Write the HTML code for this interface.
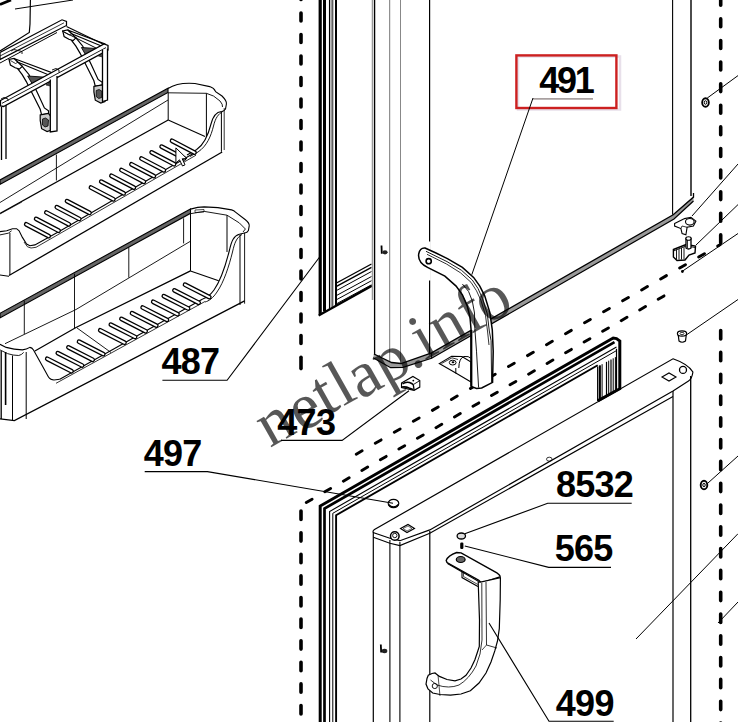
<!DOCTYPE html>
<html><head><meta charset="utf-8"><style>
html,body{margin:0;padding:0;background:#fff;}
svg{display:block;}
</style></head><body>
<svg width="738" height="722" viewBox="0 0 738 722">
<rect width="738" height="722" fill="#fff"/>
<line x1="301" y1="-8.5" x2="301" y2="350" stroke="#000" stroke-width="3.6" stroke-dasharray="7.9 13.6" stroke-linecap="round"/>
<line x1="301" y1="357.3" x2="301" y2="368.6" stroke="#000" stroke-width="3.6" stroke-linecap="round"/>
<line x1="720.7" y1="-2.7" x2="720.7" y2="245" stroke="#000" stroke-width="3.6" stroke-dasharray="7.9 13.7" stroke-linecap="round"/>
<line x1="720" y1="244.8" x2="350" y2="457.8" stroke="#000" stroke-width="2.9" stroke-dasharray="6.7 15.25" stroke-dashoffset="4.07" stroke-linecap="round"/>
<line x1="664.7" y1="295.5" x2="301" y2="505.6" stroke="#000" stroke-width="2.9" stroke-dasharray="6.7 14.69" stroke-dashoffset="20.6" stroke-linecap="round"/>
<line x1="301" y1="511.1" x2="301" y2="730" stroke="#000" stroke-width="3.6" stroke-dasharray="8.4 13.2" stroke-linecap="round"/>
<line x1="720.7" y1="330.6" x2="720.7" y2="730" stroke="#000" stroke-width="3.6" stroke-dasharray="8.4 13.4" stroke-linecap="round"/>
<line x1="320.2" y1="0" x2="320.2" y2="313.88800000000003" stroke="#000" stroke-width="3.2" />
<line x1="324.5" y1="0" x2="324.5" y2="311.48" stroke="#000" stroke-width="3" />
<line x1="329.5" y1="0" x2="329.5" y2="308.68" stroke="#000" stroke-width="1.1" />
<line x1="331.4" y1="0" x2="331.4" y2="307.616" stroke="#999" stroke-width="2" />
<line x1="332.8" y1="0" x2="332.8" y2="306.832" stroke="#000" stroke-width="0.8" />
<line x1="336" y1="0" x2="336" y2="305.04" stroke="#000" stroke-width="2" />
<path d="M318.6,315.5 L372.0,285.8" stroke="#000" stroke-width="2.3" fill="none" />
<line x1="336.5" y1="283" x2="371.5" y2="264" stroke="#000" stroke-width="1.4" />
<line x1="336.5" y1="286.4" x2="371.5" y2="267.4" stroke="#000" stroke-width="1.4" />
<line x1="336.5" y1="290.5" x2="371.5" y2="271.5" stroke="#000" stroke-width="1" />
<line x1="336.5" y1="295.5" x2="371.5" y2="276.5" stroke="#000" stroke-width="1" />
<line x1="336.5" y1="299.7" x2="371.5" y2="280.7" stroke="#000" stroke-width="1" />
<line x1="336.5" y1="303.8" x2="371.5" y2="284.8" stroke="#000" stroke-width="1" />
<line x1="372.5" y1="0" x2="372.5" y2="300" stroke="#999" stroke-width="1.5" />
<line x1="374.6" y1="0" x2="374.6" y2="355" stroke="#000" stroke-width="1.3" />
<line x1="389.7" y1="0" x2="389.7" y2="362" stroke="#777" stroke-width="1" />
<line x1="400.5" y1="0" x2="400.5" y2="363" stroke="#888" stroke-width="1" />
<line x1="429.6" y1="0" x2="429.6" y2="353.5" stroke="#000" stroke-width="1.2" />
<path d="M374,354 L391.6,362.5 L401,363.5 L431.6,352.9 L673.2,214.7 L693.5,197.1 L693.5,201 L674,219 L431.6,358.3 L403,367.3 L390.6,367.7 L373.1,357.8 Z" fill="#999" stroke="none"/>
<path d="M374.0,354.0 L391.6,362.5 L401.0,363.5 L431.6,352.9 L673.2,214.7 L693.5,197.1 L693.5,193.0" stroke="#000" stroke-width="1.3" fill="none" />
<path d="M373.1,357.8 L390.6,367.7 L403.0,367.3 L431.6,358.3 L674.0,219.0 L693.5,201.0" stroke="#000" stroke-width="1.2" fill="none" />
<line x1="431.6" y1="352.9" x2="431.6" y2="358.3" stroke="#000" stroke-width="1" />
<line x1="672.6" y1="0" x2="672.6" y2="214.7" stroke="#000" stroke-width="1.1" />
<line x1="691" y1="0" x2="691" y2="196" stroke="#000" stroke-width="1.4" />
<path d="M320.2,722.0 L320.2,506.0 L613.2,338.0 L616.5,338.6 L619.8,341.0 L619.8,388.7 L597.7,400.9" stroke="#000" stroke-width="3.0" fill="none" />
<path d="M324.5,722.0 L324.5,508.5 L614.5,342.2" stroke="#000" stroke-width="2.7" fill="none" />
<path d="M329.6,722.0 L329.6,511.5 L616.5,346.9" stroke="#000" stroke-width="1.1" fill="none" />
<path d="M332.8,722.0 L332.8,513.3 L616.5,350.6" stroke="#000" stroke-width="1.0" fill="none" />
<path d="M336.1,722.0 L336.1,515.2 L597.7,365.2" stroke="#000" stroke-width="1.9" fill="none" />
<line x1="616.5" y1="348.8" x2="616.5" y2="389" stroke="#000" stroke-width="1.2" />
<line x1="597.7" y1="366.5" x2="597.7" y2="400.9" stroke="#000" stroke-width="1.3" />
<line x1="599.9" y1="365.33400000000006" x2="599.9" y2="399.624" stroke="#000" stroke-width="2" />
<line x1="602.1" y1="364.168" x2="602.1" y2="398.348" stroke="#000" stroke-width="1" />
<line x1="606.5" y1="361.836" x2="606.5" y2="395.796" stroke="#000" stroke-width="1.2" />
<line x1="608.7" y1="360.67" x2="608.7" y2="394.52" stroke="#000" stroke-width="1" />
<line x1="611" y1="359.451" x2="611" y2="393.186" stroke="#000" stroke-width="1.2" />
<line x1="613.2" y1="358.285" x2="613.2" y2="391.90999999999997" stroke="#000" stroke-width="1" />
<line x1="615.4" y1="357.119" x2="615.4" y2="390.634" stroke="#000" stroke-width="1" />
<path d="M673,391 L429.8,529.9 L399.9,540.7 L389.9,538.2 L374.5,533 Q371.5,531.5 374.5,529.5 L673,358.8 Q688,364 692.9,372 Q692,379 688.5,381 L673,391" stroke="#000" stroke-width="1.2" fill="none" />
<path d="M373.3,537.3 L389.9,543.2 L399.9,545.6 L429.8,533.2 L673.0,396.5" stroke="#000" stroke-width="1.1" fill="none" />
<line x1="373.3" y1="532" x2="373.3" y2="722" stroke="#000" stroke-width="1.2" />
<line x1="389.9" y1="540" x2="389.9" y2="722" stroke="#000" stroke-width="1.1" />
<line x1="399.9" y1="542" x2="399.9" y2="722" stroke="#000" stroke-width="1.1" />
<line x1="429.8" y1="531" x2="429.8" y2="722" stroke="#000" stroke-width="1.2" />
<line x1="673" y1="391" x2="673" y2="722" stroke="#000" stroke-width="1.2" />
<line x1="690.7" y1="376" x2="690.7" y2="722" stroke="#000" stroke-width="1.3" />
<circle cx="394.8" cy="536" r="4.3" fill="#fff" stroke="#000" stroke-width="1.5"/>
<circle cx="394.8" cy="535.5" r="2.2" fill="none" stroke="#000" stroke-width="0.9"/>
<circle cx="683" cy="369.9" r="3.5" fill="none" stroke="#000" stroke-width="1.3"/>
<path d="M400.5,528.5 L408,524.5 L414.5,528.5 L407,532.5 Z" stroke="#000" stroke-width="1.1" fill="none" />
<path d="M403,528.5 L408,526 L412,528.5 L407,531 Z" stroke="#000" stroke-width="0.6" fill="none" />
<path d="M662,377 L669,373 L676,377 L669,381 Z" stroke="#000" stroke-width="1.1" fill="none" />
<ellipse cx="549.3" cy="459.2" rx="2.8" ry="2" fill="none" stroke="#000" stroke-width="0.8"/>
<ellipse cx="393.5" cy="503.5" rx="5.3" ry="4.2" fill="#fff" stroke="#000" stroke-width="1.2"/>
<path d="M388.5,504.5 Q393.5,509.5 398.5,504.5" stroke="#000" stroke-width="1.6" fill="none" />
<path d="M30.4,0.0 L30.0,24.0 L29.3,32.5 L0.0,51.0" stroke="#000" stroke-width="1.2" fill="none" />
<line x1="15" y1="9" x2="73" y2="0" stroke="#000" stroke-width="1" />
<path d="M0.0,4.5 L11.0,0.0" stroke="#000" stroke-width="2.8" fill="none" />
<path d="M0,52.5 L62,19.8 L66.5,21.5 L66.5,25.5 L0,59.5 Z" fill="#fff" stroke="#000" stroke-width="1.2"/>
<line x1="0" y1="56" x2="64" y2="22.8" stroke="#000" stroke-width="0.8" />
<line x1="0" y1="63" x2="57" y2="32.5" stroke="#000" stroke-width="1" />
<path d="M67.7,30.0 L105.0,44.0 L105.0,47.5 L71.7,33.7 Z" fill="#fff" stroke="#000" stroke-width="1.1"/>
<path d="M71.7,40.6 L75.9,46.2 L80.0,53.1 L87.0,66.9 L93.9,80.8 L95.3,86.4 L102.2,85.0 L102.2,82.2 L98.1,79.4 L91.1,64.2 L85.6,53.1 L82.8,46.2 L75.9,37.8 Z" fill="#fff" stroke="#000" stroke-width="1.2"/>
<path d="M62.7,30.9 L64.1,36.5 L68.9,39.2 L73.1,40.6 L75.9,37.8 L71.7,33.7 L67.7,30.0 Z" fill="#fff" stroke="#000" stroke-width="1.2"/>
<path d="M64.1,32.0 L69.2,35.0 L71.7,33.7" stroke="#000" stroke-width="0.8" fill="none" />
<path d="M81.4,47.5 L98.7,48.7 L86.2,55.9 Z" fill="#555" stroke="#000" stroke-width="0.9"/>
<path d="M93.9,86.4 L102.2,85.0 L106.4,90.5 L105.0,101.6 L100.8,103.0 L95.3,100.2 L93.9,91.9 Z" fill="#ccc" stroke="#000" stroke-width="1.2"/>
<path d="M96.2,90.5 l3,-1 l3,2 l-0.5,6 l-3,1 l-2.5,-2 Z" fill="#555" stroke="#000" stroke-width="0.8"/>
<path d="M66.5,26.5 L105.0,45.0" stroke="#000" stroke-width="1.1" fill="none" />
<path d="M62.0,31.0 L100.0,50.0" stroke="#000" stroke-width="1" fill="none" />
<path d="M14.0,58.5 L51.3,72.5 L51.3,76.0 L18.0,62.2 Z" fill="#fff" stroke="#000" stroke-width="1.1"/>
<path d="M18.0,69.1 L22.2,74.7 L26.3,81.6 L33.3,95.4 L40.2,109.3 L41.6,114.9 L48.5,113.5 L48.5,110.7 L44.4,107.9 L37.4,92.7 L31.9,81.6 L29.1,74.7 L22.2,66.3 Z" fill="#fff" stroke="#000" stroke-width="1.2"/>
<path d="M9.0,59.4 L10.4,65.0 L15.2,67.7 L19.4,69.1 L22.2,66.3 L18.0,62.2 L14.0,58.5 Z" fill="#fff" stroke="#000" stroke-width="1.2"/>
<path d="M10.4,60.5 L15.5,63.5 L18.0,62.2" stroke="#000" stroke-width="0.8" fill="none" />
<path d="M27.7,76.0 L45.0,77.2 L32.5,84.4 Z" fill="#555" stroke="#000" stroke-width="0.9"/>
<path d="M40.2,114.9 L48.5,113.5 L52.7,119.0 L51.3,130.1 L47.1,131.5 L41.6,128.7 L40.2,120.4 Z" fill="#ccc" stroke="#000" stroke-width="1.2"/>
<path d="M42.5,119.0 l3,-1 l3,2 l-0.5,6 l-3,1 l-2.5,-2 Z" fill="#555" stroke="#000" stroke-width="0.8"/>
<path d="M0.5,100.5 L104,44 L108,45.5 L108,50 L3.5,106.5 L0.5,106 Z" fill="#fff" stroke="#000" stroke-width="1.3"/>
<line x1="2" y1="103.3" x2="106" y2="47.6" stroke="#000" stroke-width="0.9" />
<path d="M102.5,50 L102.5,101.5 L107.5,100 L107.5,48.5" fill="#fff" stroke="#000" stroke-width="1.3"/>
<path d="M50.3,79.5 L50.3,132 L57,131 L57,76" fill="#fff" stroke="#000" stroke-width="1.3"/>
<path d="M50.3,82 L46,85 L50.3,86 Z" fill="#444" stroke="#000" stroke-width="0.6"/>
<path d="M102.5,53 L98.5,56 L102.5,57 Z" fill="#444" stroke="#000" stroke-width="0.6"/>
<path d="M1.5,107.0 L1.5,160.0" stroke="#000" stroke-width="1.3" fill="none" />
<path d="M6.0,105.0 L6.0,159.0" stroke="#000" stroke-width="1.3" fill="none" />
<path d="M11.0,51.0 L14.0,49.5 L22.0,51.5 L22.0,54.0" stroke="#000" stroke-width="0.9" fill="none" />
<path d="M52.0,70.0 L56.0,68.5 L59.0,70.0 L59.0,72.5" stroke="#000" stroke-width="0.9" fill="none" />
<path d="M1.0,99.0 L4.0,97.5 L8.0,99.0 L8.0,101.0" stroke="#000" stroke-width="0.9" fill="none" />
<path d="M0,180 L168,88.3 L168,92.5 L0,184.4 Z" fill="#666" stroke="#000" stroke-width="1.1"/>
<path d="M168,88.5 C175,84 183,82.5 195,83.5 L209.7,86.6 Q214,88 215.6,91.6 L222,96 Q227,101 226.4,104 L225.5,109 Q224,111.5 221.4,111.5" stroke="#000" stroke-width="1.1" fill="none" />
<path d="M168,92.8 L206.4,93.3 Q214,95 220,101 Q223,104.5 222.5,107" stroke="#000" stroke-width="0.9" fill="none" />
<line x1="168.2" y1="92.8" x2="168.2" y2="120" stroke="#000" stroke-width="1" />
<line x1="206.4" y1="93.3" x2="206.4" y2="136.5" stroke="#000" stroke-width="1" />
<path d="M0.0,202.5 L168.0,100.0" stroke="#000" stroke-width="0.9" fill="none" />
<path d="M0.0,213.5 L168.2,120.0" stroke="#000" stroke-width="1.3" fill="none" />
<path d="M0.0,214.0 L22.0,202.0" stroke="#000" stroke-width="0.6" fill="none" />
<line x1="168.2" y1="120" x2="205" y2="136.5" stroke="#000" stroke-width="1.1" />
<path d="M221.4,111.5 C216,112 213,116 211,124 C208.5,134 205,144 196.4,149.8 L187,155" stroke="#000" stroke-width="1.1" fill="none" />
<path d="M223.5,111 C218,114 215.5,118 213.5,126 C211,136 207,146 198,152 L190,156.5" stroke="#000" stroke-width="0.9" fill="none" />
<line x1="221.4" y1="111.5" x2="221.4" y2="151.8" stroke="#000" stroke-width="1" />
<line x1="224.2" y1="108" x2="224.2" y2="150" stroke="#000" stroke-width="0.8" />
<line x1="56.4" y1="154.6" x2="56.4" y2="180.5" stroke="#000" stroke-width="0.9" />
<path d="M0.0,231.6 L6.7,230.8 L12.5,228.7 L16.6,228.7 L19.1,230.8 L22.4,237.4 L26.6,244.1 L29.9,245.7 L34.9,244.9 L60.0,231.0 L194.6,152.8" stroke="#000" stroke-width="1.1" fill="none" />
<path d="M0.0,234.9 L8.3,233.2 L11.6,230.8" stroke="#000" stroke-width="0.9" fill="none" />
<path d="M24.0,242.0 L27.5,246.8 L31.0,248.0 L36.0,247.3 L60.0,233.5 L196.0,155.2" stroke="#000" stroke-width="0.8" fill="none" />
<path d="M9.0,275.5 L222.2,152.0" stroke="#000" stroke-width="1.3" fill="none" />
<line x1="9.9" y1="233" x2="9.9" y2="275" stroke="#000" stroke-width="1" />
<line x1="0" y1="275" x2="9" y2="276.3" stroke="#000" stroke-width="1" />
<path d="M26.2,224.3 l22.5,11.8" stroke="#000" stroke-width="4.7" stroke-linecap="round" fill="none"/>
<path d="M26.2,224.3 l22.5,11.8" stroke="#fff" stroke-width="2.1" stroke-linecap="round" fill="none"/>
<path d="M36.1,218.9 l22.5,11.8" stroke="#000" stroke-width="4.7" stroke-linecap="round" fill="none"/>
<path d="M36.1,218.9 l22.5,11.8" stroke="#fff" stroke-width="2.1" stroke-linecap="round" fill="none"/>
<path d="M46.3,212.5 l22.5,11.8" stroke="#000" stroke-width="4.7" stroke-linecap="round" fill="none"/>
<path d="M46.3,212.5 l22.5,11.8" stroke="#fff" stroke-width="2.1" stroke-linecap="round" fill="none"/>
<path d="M56.8,207.2 l22.5,11.8" stroke="#000" stroke-width="4.7" stroke-linecap="round" fill="none"/>
<path d="M56.8,207.2 l22.5,11.8" stroke="#fff" stroke-width="2.1" stroke-linecap="round" fill="none"/>
<path d="M67.0,201.1 l22.5,11.8" stroke="#000" stroke-width="4.7" stroke-linecap="round" fill="none"/>
<path d="M67.0,201.1 l22.5,11.8" stroke="#fff" stroke-width="2.1" stroke-linecap="round" fill="none"/>
<path d="M90.9,187.5 l22.5,11.8" stroke="#000" stroke-width="4.7" stroke-linecap="round" fill="none"/>
<path d="M90.9,187.5 l22.5,11.8" stroke="#fff" stroke-width="2.1" stroke-linecap="round" fill="none"/>
<path d="M101.2,181.6 l22.5,11.8" stroke="#000" stroke-width="4.7" stroke-linecap="round" fill="none"/>
<path d="M101.2,181.6 l22.5,11.8" stroke="#fff" stroke-width="2.1" stroke-linecap="round" fill="none"/>
<path d="M111.4,175.8 l22.5,11.8" stroke="#000" stroke-width="4.7" stroke-linecap="round" fill="none"/>
<path d="M111.4,175.8 l22.5,11.8" stroke="#fff" stroke-width="2.1" stroke-linecap="round" fill="none"/>
<path d="M121.4,170.0 l22.5,11.8" stroke="#000" stroke-width="4.7" stroke-linecap="round" fill="none"/>
<path d="M121.4,170.0 l22.5,11.8" stroke="#fff" stroke-width="2.1" stroke-linecap="round" fill="none"/>
<path d="M131.4,164.3 l22.5,11.8" stroke="#000" stroke-width="4.7" stroke-linecap="round" fill="none"/>
<path d="M131.4,164.3 l22.5,11.8" stroke="#fff" stroke-width="2.1" stroke-linecap="round" fill="none"/>
<path d="M141.4,158.5 l22.5,11.8" stroke="#000" stroke-width="4.7" stroke-linecap="round" fill="none"/>
<path d="M141.4,158.5 l22.5,11.8" stroke="#fff" stroke-width="2.1" stroke-linecap="round" fill="none"/>
<path d="M151.6,152.4 l22.5,11.8" stroke="#000" stroke-width="4.7" stroke-linecap="round" fill="none"/>
<path d="M151.6,152.4 l22.5,11.8" stroke="#fff" stroke-width="2.1" stroke-linecap="round" fill="none"/>
<path d="M161.6,146.6 l22.5,11.8" stroke="#000" stroke-width="4.7" stroke-linecap="round" fill="none"/>
<path d="M161.6,146.6 l22.5,11.8" stroke="#fff" stroke-width="2.1" stroke-linecap="round" fill="none"/>
<path d="M172.0,140.8 l22.5,11.8" stroke="#000" stroke-width="4.7" stroke-linecap="round" fill="none"/>
<path d="M172.0,140.8 l22.5,11.8" stroke="#fff" stroke-width="2.1" stroke-linecap="round" fill="none"/>
<path d="M175.9,147.9 L175.9,163 L179.5,159.8 L182.5,166 L185,164.8 L182.2,158.8 L186.8,158.5 Z" fill="#fff" stroke="#000" stroke-width="1"/>
<path d="M0,313.3 L190.5,209 L190.5,213.3 L0,317.8 Z" fill="#666" stroke="#000" stroke-width="1.1"/>
<path d="M190.5,209.1 C196,207.5 200,206.9 204.2,206.9 L217.9,207.6 L231.6,209.9 Q234,210.5 235.5,212.2 L245.4,219.8 Q249.5,223 249.2,225.9 L248.4,230.5 Q247,232.8 245.4,232.8 L239.3,234.3" stroke="#000" stroke-width="1.1" fill="none" />
<path d="M190.5,213.7 L204.2,211.4 L227,215.2 L239.3,222.9 L245.4,229 L243,232" stroke="#000" stroke-width="0.9" fill="none" />
<path d="M195,210 L204,209.5 L204,212 L195,212.5 Z" fill="none" stroke="#000" stroke-width="0.7"/>
<line x1="190.5" y1="213.7" x2="190.5" y2="270.9" stroke="#000" stroke-width="1" />
<line x1="183.6" y1="218.3" x2="183.6" y2="243.4" stroke="#000" stroke-width="0.9" />
<line x1="128.8" y1="247.5" x2="128.8" y2="277.6" stroke="#000" stroke-width="0.9" />
<line x1="74.5" y1="273.7" x2="74.5" y2="328" stroke="#000" stroke-width="0.9" />
<line x1="24.3" y1="300.7" x2="24.3" y2="334" stroke="#000" stroke-width="0.9" />
<line x1="227" y1="215.2" x2="227" y2="252" stroke="#000" stroke-width="1" />
<path d="M5.0,343.7 L76.0,309.5 L190.5,241.2" stroke="#000" stroke-width="0.9" fill="none" />
<path d="M34.9,351.0 L76.0,327.5 L190.5,270.9" stroke="#000" stroke-width="1.3" fill="none" />
<line x1="190.5" y1="270.9" x2="218.7" y2="280.8" stroke="#000" stroke-width="1.1" />
<path d="M239.3,234.3 C233.5,236 231.5,241 229.5,250 C226,264 221,280 214,290 C210,295.5 206,298 202.7,299.1" stroke="#000" stroke-width="1.1" fill="none" />
<path d="M242,234.5 C236.5,237.5 234.5,243 232.5,252 C229,266 224,282 217,292 C213,298 209,301 205,302" stroke="#000" stroke-width="0.9" fill="none" />
<line x1="240" y1="234.3" x2="240" y2="305" stroke="#000" stroke-width="1" />
<line x1="244.6" y1="232.8" x2="244.6" y2="303.7" stroke="#000" stroke-width="0.9" />
<path d="M0,344.3 L6.2,347.4 Q14,349.5 22.4,349.9 Q26.5,349.5 29.9,347.4 Q32,347.5 33.5,350 L42.4,366.1 L48.6,377.3 Q50.5,380 54,380 L59.8,379.2" stroke="#000" stroke-width="1.1" fill="none" />
<path d="M0,349.9 L7.5,353.6 Q13,355.5 18.7,355.5 Q21.5,355 23.7,352.4" stroke="#000" stroke-width="0.9" fill="none" />
<path d="M59.8,379.2 L202.7,299.1" stroke="#000" stroke-width="1.1" fill="none" />
<path d="M56.0,383.3 L205.0,301.5" stroke="#000" stroke-width="0.8" fill="none" />
<line x1="1.2" y1="351" x2="1.2" y2="419" stroke="#000" stroke-width="1.3" />
<line x1="5.6" y1="352" x2="5.6" y2="405" stroke="#000" stroke-width="1.6" />
<line x1="12.5" y1="355.5" x2="12.5" y2="420" stroke="#000" stroke-width="1" />
<line x1="26.2" y1="352" x2="26.2" y2="419" stroke="#000" stroke-width="1" />
<path d="M0.0,418.8 L14.4,420.6 L244.6,300.8" stroke="#000" stroke-width="1.3" fill="none" />
<path d="M47.2,358.8 l24.3,12.4" stroke="#000" stroke-width="4.7" stroke-linecap="round" fill="none"/>
<path d="M47.2,358.8 l24.3,12.4" stroke="#fff" stroke-width="2.1" stroke-linecap="round" fill="none"/>
<path d="M57.8,353.1 l24.3,12.4" stroke="#000" stroke-width="4.7" stroke-linecap="round" fill="none"/>
<path d="M57.8,353.1 l24.3,12.4" stroke="#fff" stroke-width="2.1" stroke-linecap="round" fill="none"/>
<path d="M68.4,347.4 l24.3,12.4" stroke="#000" stroke-width="4.7" stroke-linecap="round" fill="none"/>
<path d="M68.4,347.4 l24.3,12.4" stroke="#fff" stroke-width="2.1" stroke-linecap="round" fill="none"/>
<path d="M79.0,341.7 l24.3,12.4" stroke="#000" stroke-width="4.7" stroke-linecap="round" fill="none"/>
<path d="M79.0,341.7 l24.3,12.4" stroke="#fff" stroke-width="2.1" stroke-linecap="round" fill="none"/>
<path d="M100.2,330.3 l24.3,12.4" stroke="#000" stroke-width="4.7" stroke-linecap="round" fill="none"/>
<path d="M100.2,330.3 l24.3,12.4" stroke="#fff" stroke-width="2.1" stroke-linecap="round" fill="none"/>
<path d="M110.8,324.6 l24.3,12.4" stroke="#000" stroke-width="4.7" stroke-linecap="round" fill="none"/>
<path d="M110.8,324.6 l24.3,12.4" stroke="#fff" stroke-width="2.1" stroke-linecap="round" fill="none"/>
<path d="M121.4,318.9 l24.3,12.4" stroke="#000" stroke-width="4.7" stroke-linecap="round" fill="none"/>
<path d="M121.4,318.9 l24.3,12.4" stroke="#fff" stroke-width="2.1" stroke-linecap="round" fill="none"/>
<path d="M132.0,313.2 l24.3,12.4" stroke="#000" stroke-width="4.7" stroke-linecap="round" fill="none"/>
<path d="M132.0,313.2 l24.3,12.4" stroke="#fff" stroke-width="2.1" stroke-linecap="round" fill="none"/>
<path d="M142.6,307.5 l24.3,12.4" stroke="#000" stroke-width="4.7" stroke-linecap="round" fill="none"/>
<path d="M142.6,307.5 l24.3,12.4" stroke="#fff" stroke-width="2.1" stroke-linecap="round" fill="none"/>
<path d="M153.2,301.8 l24.3,12.4" stroke="#000" stroke-width="4.7" stroke-linecap="round" fill="none"/>
<path d="M153.2,301.8 l24.3,12.4" stroke="#fff" stroke-width="2.1" stroke-linecap="round" fill="none"/>
<path d="M163.8,296.1 l24.3,12.4" stroke="#000" stroke-width="4.7" stroke-linecap="round" fill="none"/>
<path d="M163.8,296.1 l24.3,12.4" stroke="#fff" stroke-width="2.1" stroke-linecap="round" fill="none"/>
<path d="M174.4,290.4 l24.3,12.4" stroke="#000" stroke-width="4.7" stroke-linecap="round" fill="none"/>
<path d="M174.4,290.4 l24.3,12.4" stroke="#fff" stroke-width="2.1" stroke-linecap="round" fill="none"/>
<path d="M185.0,284.7 l24.3,12.4" stroke="#000" stroke-width="4.7" stroke-linecap="round" fill="none"/>
<path d="M185.0,284.7 l24.3,12.4" stroke="#fff" stroke-width="2.1" stroke-linecap="round" fill="none"/>
<path d="M76.8,327.8 L111.0,352.5" stroke="#000" stroke-width="0.9" fill="none" />
<line x1="429.6" y1="241.5" x2="429.6" y2="280.5" stroke="#fff" stroke-width="2.2" />
<path d="M439.2,363.6 L451.6,356.3 L462,356.5 L471,362 L471,382 L455.8,373 Z" fill="#fff" stroke="#000" stroke-width="1.1"/>
<line x1="455.8" y1="368" x2="455.8" y2="373.5" stroke="#000" stroke-width="1" />
<path d="M441.5,363.5 L452.0,357.8 L458.0,359.5" stroke="#000" stroke-width="0.8" fill="none" />
<path d="M458.8,368 Q459,358 464,356.5 Q469,356 470.5,358" stroke="#000" stroke-width="1" fill="none" />
<ellipse cx="452.7" cy="362.6" rx="3.4" ry="2.4" fill="none" stroke="#000" stroke-width="1"/>
<ellipse cx="453" cy="362.3" rx="1.4" ry="1" fill="#000"/>
<path d="M425.0,248.0 L436.0,253.0 L447.4,258.7 L462.4,267.4 L473.6,277.4 L479.8,286.1 L484.8,296.1 L489.8,312.3 L492.3,330.0 L493.2,351.2 L492.6,380.2 L492.6,382.3 L481.7,388.0 L476.5,388.5 L471.3,386.5 L471.3,359.0 L471.1,330.0 L470.0,317.3 L467.3,306.1 L462.4,294.8 L456.1,286.1 L444.9,276.1 L427.5,267.4 C421,264 418,259 418.7,254 C419.5,249.5 422,247.8 425,248 Z" fill="#fff" stroke="#000" stroke-width="1.5"/>
<path d="M426.0,251.3 L447.0,261.6 L461.5,270.3 L472.3,280.0 L478.0,288.5 L482.5,298.5 L487.3,314.0 L489.3,331.0 L491.1,340.8 L491.6,382.3" stroke="#000" stroke-width="0.9" fill="none" />
<path d="M462.4,284.0 L468.6,291.5 L472.3,301.0 L474.5,313.0 L474.8,328.3 L476.5,351.2 L478.6,387.5" stroke="#000" stroke-width="0.9" fill="none" />
<path d="M427.0,254.3 L446.5,264.0 L460.5,272.8 L471.0,282.3 L476.5,290.8 L481.0,300.5 L485.5,315.5 L487.5,331.0 L489.0,345.0" stroke="#000" stroke-width="0.8" fill="none" />
<line x1="471.3" y1="330" x2="471.3" y2="386.5" stroke="#000" stroke-width="2.1" />
<circle cx="428.7" cy="261.2" r="2.6" fill="#fff" stroke="#000" stroke-width="1.6"/>
<path d="M446.2,560.5 Q448,555.5 456.7,552.5 L461.1,552.9 L497.3,573.2 Q501,576 499.9,577 L481.4,582.9 L478.8,580.2 L447,562.5 Z" fill="#fff" stroke="#000" stroke-width="1.4"/>
<path d="M447.5,563.5 L478.8,581.5" stroke="#000" stroke-width="1.1" fill="none" />
<ellipse cx="460.7" cy="559.5" rx="4.4" ry="3" fill="#666" stroke="#000" stroke-width="1.2"/>
<path d="M462.0,571.4 L462.0,577.6 L477.9,586.4" stroke="#000" stroke-width="1.1" fill="none" />
<path d="M463.5,572.2 L463.5,576.5 L477.9,584.5" stroke="#000" stroke-width="0.7" fill="none" />
<path d="M480.4,582.1 L500.4,577.7 L500.2,600.0 L499.3,628.7 L497.5,641.0 L494.8,650.9 L491.0,662.0 L486.0,673.0 L479.0,683.0 L470.4,690.8 L461.0,694.0 L450.5,695.2 L440.0,694.5 L432.7,693.0 L428.0,689.0 L426.0,684.1 L427.0,678.5 L428.3,675.3 L432.0,673.5 L435.0,673.0 L439.4,676.4 L447.0,679.5 L455.0,680.8 L461.0,679.0 L466.0,675.3 L471.0,668.0 L474.9,659.7 L477.5,652.0 L479.3,646.4 L479.5,620.0 L478.2,582.1Z" fill="#fff" stroke="#000" stroke-width="1.2"/>
<path d="M481.8,583 L482,640 Q481,655 476,666 Q469,679 459,685 Q449,689 437,685 L430.5,680" stroke="#000" stroke-width="0.8" fill="none" />
<path d="M486,582 L486.5,645 L497,648" stroke="#000" stroke-width="0.8" fill="none" />
<path d="M486.5,645.0 L482.0,650.0" stroke="#000" stroke-width="0.7" fill="none" />
<ellipse cx="434.8" cy="686" rx="2.6" ry="2.6" fill="none" stroke="#000" stroke-width="0.9"/>
<line x1="438" y1="675" x2="440" y2="696" stroke="#000" stroke-width="0.7" />
<ellipse cx="461.3" cy="536" rx="4.2" ry="3" fill="#ddd" stroke="#000" stroke-width="1.3"/>
<rect x="460.2" y="542.5" width="3.2" height="6.5" rx="1.2" fill="#000"/>
<path d="M401.5,383 L412.9,376.5 L419.8,380.6 L419.8,387.1 L414.1,390.3 L401.5,387.5 Z" fill="#fff" stroke="#000" stroke-width="1.1"/>
<path d="M413.3,384.6 L419.8,380.6" stroke="#000" stroke-width="0.9" fill="none" />
<path d="M413.3,384.6 L414.1,390.3" stroke="#000" stroke-width="1.3" fill="none" />
<path d="M402.5,384 Q405.5,381.5 409.5,382.5 Q412,383.5 413.3,384.6" stroke="#000" stroke-width="1.4" fill="none" />
<path d="M402,387 Q406,386.5 409,388 L413,389.5" stroke="#000" stroke-width="1.6" fill="none" />
<circle cx="413.3" cy="380.6" r="0.9" fill="#000"/>
<ellipse cx="705.5" cy="102.5" rx="3.3" ry="4.3" fill="#fff" stroke="#000" stroke-width="1.9"/>
<ellipse cx="705.5" cy="102.5" rx="1.2" ry="1.8" fill="none" stroke="#000" stroke-width="1"/>
<path d="M674.6,223.6 L684.6,218.6 L690.9,217.3 L695.9,221.1 L693.4,226.1 L687.1,227.3 L685.9,234.8 L682.1,233.6 L680.9,228.6 L674.6,226.1 Z" fill="#fff" stroke="#000" stroke-width="1.1"/>
<ellipse cx="689.8" cy="221.8" rx="4.3" ry="3.3" fill="#fff" stroke="#000" stroke-width="1.1"/>
<path d="M680.9,228.6 L682.0,226.0 L687.1,227.3" stroke="#000" stroke-width="0.8" fill="none" />
<path d="M673.4,249.5 L686,244.5 L695.5,246 L695,253 L689,255 L685,260 L677,260.5 L673.4,257 Z" fill="#fff" stroke="#000" stroke-width="1.4"/>
<line x1="676.5" y1="249.5" x2="676.5" y2="259.5" stroke="#000" stroke-width="0.9" />
<line x1="679" y1="248.7" x2="679" y2="259.5" stroke="#000" stroke-width="0.9" />
<line x1="681.5" y1="247.9" x2="681.5" y2="259.5" stroke="#000" stroke-width="0.9" />
<line x1="684" y1="247.1" x2="684" y2="259.5" stroke="#000" stroke-width="0.9" />
<path d="M673.4,251.0 L686.0,246.0 L695.5,247.5" stroke="#000" stroke-width="0.9" fill="none" />
<path d="M686,238.5 L686,248 Q688.5,250 691,248 L691,238.5 Z" fill="#fff" stroke="#000" stroke-width="1.3"/>
<ellipse cx="688.5" cy="238.5" rx="2.6" ry="1.8" fill="#fff" stroke="#000" stroke-width="1.1"/>
<line x1="687.5" y1="240" x2="687.5" y2="248" stroke="#000" stroke-width="0.8" />
<circle cx="682.4" cy="271.5" r="1.4" fill="#000"/>
<path d="M678,333 Q681.5,331 686.5,333 L685.5,341 Q682,343.5 679,341 Z" fill="#fff" stroke="#000" stroke-width="1.2"/>
<ellipse cx="682" cy="333.5" rx="4.6" ry="2.6" fill="#fff" stroke="#000" stroke-width="1.2"/>
<ellipse cx="682" cy="333.5" rx="2" ry="1.2" fill="none" stroke="#000" stroke-width="0.8"/>
<ellipse cx="704" cy="485" rx="3.3" ry="4.3" fill="#fff" stroke="#000" stroke-width="1.9"/>
<ellipse cx="704" cy="485" rx="1.2" ry="1.8" fill="none" stroke="#000" stroke-width="1"/>
<path d="M381.5,245.5 L381.8,253.8" stroke="#000" stroke-width="1.8" fill="none"/><ellipse cx="385" cy="252.3" rx="2.6" ry="2.1" fill="#222"/>
<path d="M380.8,644.5 L381.2,652.5" stroke="#000" stroke-width="1.8" fill="none"/><ellipse cx="384.5" cy="651" rx="2.8" ry="2.2" fill="#222"/>
<rect x="518" y="56.5" width="102" height="53" fill="none" stroke="#e8e0ea" stroke-width="2.5"/>
<rect x="516.4" y="55.4" width="100" height="52.6" fill="none" stroke="#cc2020" stroke-width="2.4"/>
<text x="539.2" y="93.0" style="font-family:&quot;Liberation Sans&quot;" font-weight="bold" font-size="36" letter-spacing="-2.2" fill="#000">491</text>
<line x1="533" y1="98.9" x2="593" y2="98.9" stroke="#a8a0a0" stroke-width="1.6" />
<text x="161.4" y="374.1" style="font-family:&quot;Liberation Sans&quot;" font-weight="bold" font-size="36" letter-spacing="-0.7" fill="#000">487</text>
<text x="277.3" y="434.8" style="font-family:&quot;Liberation Sans&quot;" font-weight="bold" font-size="36" letter-spacing="-0.7" fill="#000">473</text>
<text x="143.7" y="465.6" style="font-family:&quot;Liberation Sans&quot;" font-weight="bold" font-size="36" letter-spacing="-0.7" fill="#000">497</text>
<text x="555.9" y="496.8" style="font-family:&quot;Liberation Sans&quot;" font-weight="bold" font-size="36" letter-spacing="-0.7" fill="#000">8532</text>
<text x="554.7" y="560.9" style="font-family:&quot;Liberation Sans&quot;" font-weight="bold" font-size="36" letter-spacing="-0.7" fill="#000">565</text>
<text x="555.8" y="715.8" style="font-family:&quot;Liberation Sans&quot;" font-weight="bold" font-size="36" letter-spacing="-0.7" fill="#000">499</text>
<path d="M162.4,380.3 L227.1,380.3 L320.0,256.5" stroke="#000" stroke-width="1.1" fill="none" />
<path d="M281.0,440.4 L342.1,440.4 L409.0,390.7" stroke="#000" stroke-width="1.1" fill="none" />
<path d="M144.7,471.6 L207.4,471.6 L393.0,503.3" stroke="#000" stroke-width="1.1" fill="none" />
<path d="M631.7,503.3 L547.7,503.3 L464.8,533.8" stroke="#000" stroke-width="1.1" fill="none" />
<path d="M611.0,567.4 L548.7,567.4 L464.8,546.0" stroke="#000" stroke-width="1.1" fill="none" />
<path d="M613.7,721.2 L549.0,721.2 L489.0,623.0" stroke="#000" stroke-width="1.1" fill="none" />
<line x1="533" y1="98" x2="471.8" y2="274.7" stroke="#000" stroke-width="1" />
<line x1="707.2" y1="98.1" x2="738" y2="75.6" stroke="#000" stroke-width="1" />
<line x1="692" y1="216" x2="738" y2="164" stroke="#000" stroke-width="1" />
<line x1="696" y1="245" x2="738" y2="204.6" stroke="#000" stroke-width="1" />
<line x1="682.4" y1="271.2" x2="738" y2="233.5" stroke="#000" stroke-width="1" />
<line x1="687" y1="334.5" x2="738" y2="299.5" stroke="#000" stroke-width="1" />
<line x1="708" y1="483" x2="738" y2="456" stroke="#000" stroke-width="1" />
<line x1="636" y1="639" x2="738" y2="533.7" stroke="#000" stroke-width="1" />
<line x1="718" y1="623" x2="738" y2="602" stroke="#000" stroke-width="1" />
<text x="0" y="0" style="font-family:&quot;Liberation Serif&quot;" font-size="65.6" fill="#000" fill-opacity="0.66" transform="translate(270.1,447.9) rotate(-29.5)"><tspan dx="0 1.8 0.7 1.5 0 -0.1 -2 -1 2 -0.5 -2.5" dy="0 2.5 -2.5 0 3 0 0 -3 0 0 0">netlap.info</tspan></text>
</svg></body></html>
